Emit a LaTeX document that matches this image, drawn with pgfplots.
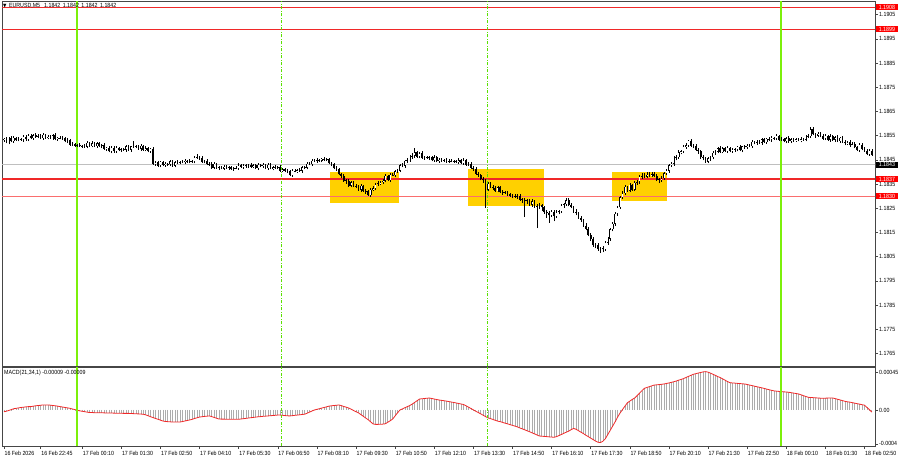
\documentclass[border=0pt]{standalone}
\usepackage{pgfplots}
\usepackage{pgfplotstable}
\pgfplotsset{compat=1.18}
\usepackage{fontspec}
\setmainfont{Liberation Sans}[FakeStretch=0.88]
\newfontfamily\dejavu{DejaVu Sans}[FakeStretch=0.88]
\newcommand\ticks{\fontsize{6}{7}\selectfont}
\definecolor{gold}{RGB}{255,208,0}
\definecolor{lred}{RGB}{240,40,40}
\definecolor{pred}{RGB}{250,110,110}
\definecolor{lgreen}{RGB}{124,240,10}
\definecolor{dgreen}{RGB}{90,225,0}
\definecolor{hist}{RGB}{172,172,172}
\definecolor{frame}{RGB}{70,70,70}

\pgfplotstableread{
i o h l c m
-30 1.18530 1.18542 1.18524 1.18537 -2e-5
-29 1.18537 1.18545 1.18518 1.18522 -1.5e-5
-28 1.18522 1.18544 1.18514 1.18540 -0.5e-5
-27 1.18540 1.18547 1.18522 1.18527 0.5e-5
-26 1.18527 1.18547 1.18520 1.18541 1.5e-5
-25 1.18541 1.18546 1.18528 1.18532 2e-5
-24 1.18532 1.18543 1.18526 1.18535 2.5e-5
-23 1.18535 1.18541 1.18529 1.18533 3e-5
-22 1.18533 1.18552 1.18525 1.18545 3.3e-5
-21 1.18545 1.18551 1.18529 1.18534 3.7e-5
-20 1.18534 1.18555 1.18527 1.18550 4e-5
-19 1.18550 1.18558 1.18534 1.18538 4e-5
-18 1.18538 1.18555 1.18532 1.18551 4.5e-5
-17 1.18551 1.18561 1.18542 1.18546 5e-5
-16 1.18546 1.18556 1.18538 1.18550 5.3e-5
-15 1.18550 1.18555 1.18535 1.18540 5.6e-5
-14 1.18540 1.18561 1.18533 1.18553 6e-5
-13 1.18553 1.18557 1.18536 1.18540 6e-5
-12 1.18540 1.18553 1.18534 1.18546 6e-5
-11 1.18546 1.18552 1.18536 1.18540 5.7e-5
-10 1.18540 1.18556 1.18532 1.18551 5.3e-5
-9 1.18551 1.18559 1.18530 1.18535 5e-5
-8 1.18535 1.18545 1.18528 1.18541 4.5e-5
-7 1.18541 1.18548 1.18534 1.18538 4e-5
-6 1.18538 1.18547 1.18532 1.18541 3.5e-5
-5 1.18541 1.18546 1.18522 1.18526 3e-5
-4 1.18526 1.18538 1.18518 1.18530 2.5e-5
-3 1.18530 1.18534 1.18508 1.18513 2e-5
-2 1.18513 1.18522 1.18506 1.18515 1.2e-5
-1 1.18515 1.18521 1.18503 1.18507 0.5e-5
0 1.18507 1.18515 1.18501 1.18510 -0.3e-5
1 1.18510 1.18518 1.18503 1.18507 -1e-5
2 1.18507 1.18513 1.18499 1.18509 -1.5e-5
3 1.18509 1.18516 1.18499 1.18504 -2e-5
4 1.18504 1.18526 1.18497 1.18520 -2.5e-5
5 1.18520 1.18525 1.18503 1.18507 -3e-5
6 1.18507 1.18526 1.18501 1.18518 -3e-5
7 1.18518 1.18522 1.18502 1.18506 -3.2e-5
8 1.18506 1.18525 1.18498 1.18518 -3.2e-5
9 1.18518 1.18524 1.18502 1.18507 -3.3e-5
10 1.18507 1.18515 1.18500 1.18510 -3.3e-5
11 1.18510 1.18518 1.18491 1.18495 -3.4e-5
12 1.18495 1.18504 1.18486 1.18500 -3.5e-5
13 1.18500 1.18507 1.18481 1.18485 -3.5e-5
14 1.18485 1.18506 1.18477 1.18500 -3.6e-5
15 1.18500 1.18505 1.18480 1.18485 -3.7e-5
16 1.18485 1.18508 1.18478 1.18500 -3.8e-5
17 1.18500 1.18504 1.18485 1.18489 -3.8e-5
18 1.18489 1.18500 1.18483 1.18493 -3.9e-5
19 1.18493 1.18500 1.18487 1.18491 -4e-5
20 1.18491 1.18510 1.18483 1.18505 -4e-5
21 1.18505 1.18513 1.18486 1.18491 -4e-5
22 1.18491 1.18509 1.18484 1.18505 -4.2e-5
23 1.18505 1.18527 1.18499 1.18503 -4.3e-5
24 1.18503 1.18512 1.18497 1.18506 -4.5e-5
25 1.18506 1.18511 1.18491 1.18495 -4.6e-5
26 1.18495 1.18516 1.18487 1.18508 -4.8e-5
27 1.18508 1.18512 1.18487 1.18492 -5e-5
28 1.18492 1.18505 1.18485 1.18498 -5.8e-5
29 1.18498 1.18504 1.18481 1.18485 -6.8e-5
30 1.18485 1.18500 1.18479 1.18495 -8e-5
31 1.18495 1.18503 1.18430 1.18434 -9e-5
32 1.18434 1.18445 1.18426 1.18439 -10e-5
33 1.18439 1.18446 1.18421 1.18426 -11e-5
34 1.18426 1.18447 1.18419 1.18441 -12e-5
35 1.18441 1.18446 1.18424 1.18428 -13e-5
36 1.18428 1.18442 1.18422 1.18434 -13.6e-5
37 1.18434 1.18438 1.18425 1.18431 -13.8e-5
38 1.18431 1.18451 1.18423 1.18444 -14e-5
39 1.18444 1.18450 1.18421 1.18426 -14.2e-5
40 1.18426 1.18445 1.18419 1.18440 -14.2e-5
41 1.18440 1.18448 1.18434 1.18438 -14.2e-5
42 1.18438 1.18446 1.18432 1.18442 -14.2e-5
43 1.18442 1.18449 1.18435 1.18439 -13.7e-5
44 1.18439 1.18452 1.18431 1.18446 -13e-5
45 1.18446 1.18451 1.18437 1.18442 -12.4e-5
46 1.18442 1.18454 1.18435 1.18446 -11.8e-5
47 1.18446 1.18451 1.18437 1.18441 -11e-5
48 1.18441 1.18465 1.18435 1.18458 -10e-5
49 1.18458 1.18474 1.18454 1.18461 -9.2e-5
50 1.18461 1.18466 1.18449 1.18457 -8.3e-5
51 1.18457 1.18465 1.18437 1.18442 -8e-5
52 1.18442 1.18450 1.18435 1.18446 -7.6e-5
53 1.18446 1.18453 1.18427 1.18431 -7.3e-5
54 1.18431 1.18440 1.18424 1.18434 -7e-5
55 1.18434 1.18439 1.18414 1.18418 -7.8e-5
56 1.18418 1.18441 1.18410 1.18433 -8.8e-5
57 1.18433 1.18437 1.18412 1.18417 -9.8e-5
58 1.18417 1.18425 1.18407 1.18418 -10.7e-5
59 1.18418 1.18424 1.18410 1.18414 -10.8e-5
60 1.18414 1.18427 1.18408 1.18422 -10.8e-5
61 1.18422 1.18430 1.18413 1.18417 -10.9e-5
62 1.18417 1.18423 1.18409 1.18419 -11e-5
63 1.18419 1.18426 1.18407 1.18412 -11e-5
64 1.18412 1.18422 1.18405 1.18416 -11e-5
65 1.18416 1.18423 1.18411 1.18415 -11e-5
66 1.18415 1.18435 1.18409 1.18427 -11e-5
67 1.18427 1.18431 1.18418 1.18422 -10.6e-5
68 1.18422 1.18434 1.18414 1.18427 -10.3e-5
69 1.18427 1.18433 1.18418 1.18423 -9.9e-5
70 1.18423 1.18432 1.18416 1.18427 -9.5e-5
71 1.18427 1.18435 1.18418 1.18422 -9.1e-5
72 1.18422 1.18431 1.18416 1.18427 -8.8e-5
73 1.18427 1.18434 1.18411 1.18415 -8.4e-5
74 1.18415 1.18435 1.18407 1.18429 -8e-5
75 1.18429 1.18434 1.18419 1.18424 -7.8e-5
76 1.18424 1.18437 1.18417 1.18429 -7.5e-5
77 1.18429 1.18433 1.18411 1.18415 -7.3e-5
78 1.18415 1.18436 1.18409 1.18429 -7e-5
79 1.18429 1.18435 1.18410 1.18414 -6.8e-5
80 1.18414 1.18424 1.18406 1.18419 -6.5e-5
81 1.18419 1.18427 1.18412 1.18417 -6.3e-5
82 1.18417 1.18425 1.18410 1.18421 -6e-5
83 1.18421 1.18428 1.18401 1.18405 -6e-5
84 1.18405 1.18416 1.18399 1.18410 -6.3e-5
85 1.18410 1.18415 1.18399 1.18405 -6.6e-5
86 1.18405 1.18413 1.18394 1.18404 -6.9e-5
87 1.18404 1.18408 1.18381 1.18386 -7e-5
88 1.18386 1.18411 1.18379 1.18404 -6.7e-5
89 1.18404 1.18410 1.18398 1.18402 -6.3e-5
90 1.18402 1.18412 1.18396 1.18407 -6e-5
91 1.18407 1.18415 1.18400 1.18404 -5.7e-5
92 1.18404 1.18423 1.18396 1.18419 -5.3e-5
93 1.18419 1.18426 1.18410 1.18417 -5e-5
94 1.18417 1.18440 1.18410 1.18434 -3.8e-5
95 1.18434 1.18441 1.18427 1.18431 -2.5e-5
96 1.18431 1.18455 1.18425 1.18447 -1.2e-5
97 1.18447 1.18453 1.18441 1.18445 0
98 1.18445 1.18456 1.18437 1.18449 0.8e-5
99 1.18449 1.18455 1.18441 1.18446 1.5e-5
100 1.18446 1.18459 1.18439 1.18454 2.3e-5
101 1.18454 1.18462 1.18445 1.18449 3e-5
102 1.18449 1.18456 1.18443 1.18452 3.8e-5
103 1.18452 1.18459 1.18431 1.18435 4.6e-5
104 1.18435 1.18441 1.18423 1.18431 5e-5
105 1.18431 1.18436 1.18410 1.18415 5.3e-5
106 1.18415 1.18423 1.18402 1.18411 5.6e-5
107 1.18411 1.18415 1.18386 1.18390 6e-5
108 1.18390 1.18397 1.18374 1.18385 5.2e-5
109 1.18385 1.18391 1.18359 1.18363 4.2e-5
110 1.18363 1.18370 1.18352 1.18362 3.3e-5
111 1.18362 1.18370 1.18338 1.18343 2.4e-5
112 1.18343 1.18361 1.18336 1.18357 1e-5
113 1.18357 1.18364 1.18337 1.18341 -0.6e-5
114 1.18341 1.18348 1.18333 1.18342 -2e-5
115 1.18342 1.18347 1.18322 1.18326 -3.4e-5
116 1.18326 1.18350 1.18318 1.18342 -5.4e-5
117 1.18342 1.18346 1.18318 1.18323 -7.5e-5
118 1.18323 1.18330 1.18310 1.18321 -9.6e-5
119 1.18321 1.18327 1.18300 1.18304 -11.5e-5
120 1.18304 1.18332 1.18298 1.18327 -14e-5
121 1.18327 1.18341 1.18321 1.18333 -16.5e-5
122 1.18333 1.18353 1.18325 1.18349 -17e-5
123 1.18349 1.18362 1.18342 1.18353 -17e-5
124 1.18353 1.18364 1.18346 1.18358 -16.9e-5
125 1.18358 1.18370 1.18350 1.18363 -16.7e-5
126 1.18363 1.18391 1.18357 1.18383 -16.3e-5
127 1.18383 1.18387 1.18362 1.18366 -14.5e-5
128 1.18366 1.18395 1.18358 1.18388 -12.7e-5
129 1.18388 1.18395 1.18381 1.18387 -10.7e-5
130 1.18387 1.18407 1.18380 1.18402 -7e-5
131 1.18402 1.18414 1.18395 1.18405 -3.3e-5
132 1.18405 1.18432 1.18399 1.18428 0
133 1.18428 1.18436 1.18419 1.18426 1.3e-5
134 1.18426 1.18451 1.18418 1.18445 2.7e-5
135 1.18445 1.18456 1.18437 1.18448 4e-5
136 1.18448 1.18470 1.18442 1.18462 5.3e-5
137 1.18462 1.18480 1.18455 1.18466 7e-5
138 1.18466 1.18500 1.18458 1.18482 9e-5
139 1.18482 1.18488 1.18458 1.18463 11e-5
140 1.18463 1.18483 1.18456 1.18478 13e-5
141 1.18478 1.18486 1.18454 1.18458 13.3e-5
142 1.18458 1.18464 1.18451 1.18460 13.6e-5
143 1.18460 1.18467 1.18453 1.18457 13.9e-5
144 1.18457 1.18467 1.18449 1.18461 14.2e-5
145 1.18461 1.18466 1.18443 1.18448 13.6e-5
146 1.18448 1.18468 1.18441 1.18460 13e-5
147 1.18460 1.18464 1.18439 1.18443 12.4e-5
148 1.18443 1.18457 1.18437 1.18450 11.8e-5
149 1.18450 1.18456 1.18441 1.18447 11.4e-5
150 1.18447 1.18455 1.18439 1.18450 11e-5
151 1.18450 1.18458 1.18438 1.18443 10.5e-5
152 1.18443 1.18452 1.18436 1.18446 10e-5
153 1.18446 1.18453 1.18439 1.18443 9.4e-5
154 1.18443 1.18451 1.18437 1.18445 8.9e-5
155 1.18445 1.18450 1.18437 1.18441 8.3e-5
156 1.18441 1.18456 1.18433 1.18448 7.7e-5
157 1.18448 1.18452 1.18431 1.18436 7.1e-5
158 1.18436 1.18456 1.18429 1.18449 6.5e-5
159 1.18449 1.18455 1.18426 1.18430 5e-5
160 1.18430 1.18439 1.18424 1.18433 3.4e-5
161 1.18433 1.18441 1.18413 1.18417 1.8e-5
162 1.18417 1.18424 1.18405 1.18414 0.2e-5
163 1.18414 1.18421 1.18388 1.18393 -1.5e-5
164 1.18393 1.18401 1.18380 1.18388 -3e-5
165 1.18388 1.18393 1.18365 1.18369 -4.5e-5
166 1.18369 1.18377 1.18354 1.18365 -6.2e-5
167 1.18365 1.18369 1.18250 1.18327 -7.8e-5
168 1.18327 1.18358 1.18319 1.18351 -9.3e-5
169 1.18351 1.18357 1.18333 1.18338 -10.2e-5
170 1.18338 1.18345 1.18326 1.18335 -11.2e-5
171 1.18335 1.18343 1.18317 1.18321 -12.2e-5
172 1.18321 1.18340 1.18315 1.18336 -13.2e-5
173 1.18336 1.18343 1.18311 1.18315 -13.8e-5
174 1.18315 1.18324 1.18306 1.18318 -14.7e-5
175 1.18318 1.18323 1.18307 1.18312 -15.6e-5
176 1.18312 1.18320 1.18302 1.18309 -16.4e-5
177 1.18309 1.18313 1.18296 1.18300 -17.3e-5
178 1.18300 1.18309 1.18292 1.18302 -18.2e-5
179 1.18302 1.18308 1.18294 1.18298 -19e-5
180 1.18298 1.18307 1.18290 1.18302 -20e-5
181 1.18302 1.18310 1.18280 1.18285 -21.2e-5
182 1.18285 1.18292 1.18272 1.18284 -22.3e-5
183 1.18284 1.18291 1.18213 1.18279 -23.4e-5
184 1.18279 1.18289 1.18269 1.18282 -24.6e-5
185 1.18282 1.18287 1.18261 1.18265 -25.7e-5
186 1.18265 1.18286 1.18257 1.18278 -27e-5
187 1.18278 1.18282 1.18252 1.18257 -28.2e-5
188 1.18257 1.18267 1.18168 1.18260 -29.5e-5
189 1.18260 1.18270 1.18245 1.18264 -30.8e-5
190 1.18264 1.18269 1.18240 1.18253 -31e-5
191 1.18253 1.18261 1.18228 1.18234 -31.3e-5
192 1.18234 1.18244 1.18210 1.18231 -31.5e-5
193 1.18231 1.18238 1.18190 1.18220 -31.8e-5
194 1.18220 1.18242 1.18214 1.18236 -32e-5
195 1.18236 1.18241 1.18196 1.18217 -32.3e-5
196 1.18217 1.18241 1.18209 1.18233 -31.5e-5
197 1.18233 1.18244 1.18224 1.18237 -30.3e-5
198 1.18237 1.18268 1.18230 1.18261 -29e-5
199 1.18261 1.18273 1.18252 1.18266 -27.6e-5
200 1.18266 1.18292 1.18260 1.18283 -26.3e-5
201 1.18283 1.18291 1.18258 1.18262 -25e-5
202 1.18262 1.18270 1.18249 1.18254 -23.3e-5
203 1.18254 1.18261 1.18231 1.18236 -21.8e-5
204 1.18236 1.18245 1.18220 1.18229 -22.8e-5
205 1.18229 1.18234 1.18207 1.18211 -24.5e-5
206 1.18211 1.18219 1.18194 1.18203 -26.2e-5
207 1.18203 1.18207 1.18173 1.18177 -27.9e-5
208 1.18177 1.18188 1.18158 1.18166 -29.8e-5
209 1.18166 1.18172 1.18134 1.18139 -31.5e-5
210 1.18139 1.18148 1.18114 1.18122 -33.3e-5
211 1.18122 1.18130 1.18090 1.18096 -35e-5
212 1.18096 1.18107 1.18084 1.18098 -36.8e-5
213 1.18098 1.18105 1.18074 1.18081 -38.2e-5
214 1.18081 1.18090 1.18064 1.18084 -38.5e-5
215 1.18084 1.18094 1.18068 1.18080 -37e-5
216 1.18080 1.18115 1.18074 1.18107 -34e-5
217 1.18107 1.18132 1.18100 1.18124 -29e-5
218 1.18124 1.18169 1.18116 1.18162 -24e-5
219 1.18162 1.18194 1.18154 1.18185 -19e-5
220 1.18185 1.18233 1.18178 1.18228 -14e-5
221 1.18228 1.18261 1.18218 1.18253 -8.5e-5
222 1.18253 1.18299 1.18247 1.18295 -3.6e-5
223 1.18295 1.18323 1.18286 1.18312 0.5e-5
224 1.18312 1.18344 1.18304 1.18338 4.5e-5
225 1.18338 1.18343 1.18317 1.18322 8.5e-5
226 1.18322 1.18354 1.18315 1.18346 10.5e-5
227 1.18346 1.18350 1.18323 1.18327 12.5e-5
228 1.18327 1.18363 1.18321 1.18356 14.2e-5
229 1.18356 1.18367 1.18346 1.18359 17e-5
230 1.18359 1.18386 1.18351 1.18381 20e-5
231 1.18381 1.18395 1.18372 1.18384 23e-5
232 1.18384 1.18396 1.18373 1.18380 25.7e-5
233 1.18380 1.18398 1.18376 1.18389 26.6e-5
234 1.18389 1.18400 1.18377 1.18383 27.6e-5
235 1.18383 1.18401 1.18379 1.18391 28.6e-5
236 1.18391 1.18399 1.18377 1.18385 29.5e-5
237 1.18385 1.18391 1.18362 1.18367 29.8e-5
238 1.18367 1.18376 1.18354 1.18369 30.1e-5
239 1.18369 1.18384 1.18360 1.18374 30.4e-5
240 1.18374 1.18400 1.18368 1.18395 30.8e-5
241 1.18395 1.18412 1.18388 1.18404 31.4e-5
242 1.18404 1.18432 1.18396 1.18428 32e-5
243 1.18428 1.18442 1.18420 1.18433 32.7e-5
244 1.18433 1.18464 1.18426 1.18458 33.4e-5
245 1.18458 1.18468 1.18448 1.18461 34.3e-5
246 1.18461 1.18489 1.18455 1.18481 35.3e-5
247 1.18481 1.18492 1.18472 1.18486 36.2e-5
248 1.18486 1.18510 1.18478 1.18503 37.2e-5
249 1.18503 1.18520 1.18496 1.18510 38.5e-5
250 1.18510 1.18533 1.18503 1.18528 39.8e-5
251 1.18528 1.18536 1.18503 1.18507 41e-5
252 1.18507 1.18516 1.18498 1.18509 42.3e-5
253 1.18509 1.18516 1.18487 1.18491 43e-5
254 1.18491 1.18498 1.18474 1.18485 43.7e-5
255 1.18485 1.18490 1.18455 1.18460 44.4e-5
256 1.18460 1.18470 1.18448 1.18457 45.1e-5
257 1.18457 1.18461 1.18438 1.18442 45.4e-5
258 1.18442 1.18463 1.18436 1.18456 44.8e-5
259 1.18456 1.18466 1.18446 1.18460 43.6e-5
260 1.18460 1.18485 1.18452 1.18480 42.3e-5
261 1.18480 1.18491 1.18470 1.18483 41e-5
262 1.18483 1.18502 1.18476 1.18498 39.5e-5
263 1.18498 1.18505 1.18478 1.18482 38.4e-5
264 1.18482 1.18504 1.18476 1.18498 36.8e-5
265 1.18498 1.18503 1.18482 1.18486 35.2e-5
266 1.18486 1.18508 1.18478 1.18500 33.6e-5
267 1.18500 1.18504 1.18481 1.18486 32.3e-5
268 1.18486 1.18500 1.18479 1.18493 32e-5
269 1.18493 1.18499 1.18484 1.18491 31.8e-5
270 1.18491 1.18509 1.18485 1.18504 31.5e-5
271 1.18504 1.18512 1.18485 1.18489 31.3e-5
272 1.18489 1.18509 1.18481 1.18505 31e-5
273 1.18505 1.18512 1.18496 1.18501 30.8e-5
274 1.18501 1.18514 1.18494 1.18508 30.2e-5
275 1.18508 1.18515 1.18501 1.18506 29.5e-5
276 1.18506 1.18532 1.18500 1.18524 28.9e-5
277 1.18524 1.18528 1.18514 1.18520 28.2e-5
278 1.18520 1.18531 1.18512 1.18524 27.5e-5
279 1.18524 1.18530 1.18515 1.18520 26.9e-5
280 1.18520 1.18539 1.18513 1.18534 26.2e-5
281 1.18534 1.18542 1.18519 1.18523 25.5e-5
282 1.18523 1.18541 1.18517 1.18537 24.7e-5
283 1.18537 1.18544 1.18529 1.18533 24e-5
284 1.18533 1.18547 1.18525 1.18541 23.3e-5
285 1.18541 1.18546 1.18533 1.18538 22.6e-5
286 1.18538 1.18557 1.18531 1.18549 22.3e-5
287 1.18549 1.18553 1.18528 1.18532 22e-5
288 1.18532 1.18543 1.18526 1.18536 21.8e-5
289 1.18536 1.18542 1.18522 1.18526 21.5e-5
290 1.18526 1.18544 1.18518 1.18539 21.3e-5
291 1.18539 1.18547 1.18521 1.18526 21e-5
292 1.18526 1.18538 1.18519 1.18534 20.5e-5
293 1.18534 1.18541 1.18525 1.18530 20e-5
294 1.18530 1.18541 1.18524 1.18535 19.5e-5
295 1.18535 1.18540 1.18526 1.18530 19e-5
296 1.18530 1.18543 1.18522 1.18535 18e-5
297 1.18535 1.18541 1.18528 1.18533 17e-5
298 1.18533 1.18553 1.18526 1.18546 16e-5
299 1.18546 1.18558 1.18539 1.18548 15e-5
300 1.18548 1.18586 1.18542 1.18576 14.8e-5
301 1.18576 1.18584 1.18551 1.18555 14.6e-5
302 1.18555 1.18562 1.18542 1.18550 14.4e-5
303 1.18550 1.18564 1.18545 1.18557 14.2e-5
304 1.18557 1.18563 1.18543 1.18550 14e-5
305 1.18550 1.18555 1.18533 1.18537 13.9e-5
306 1.18537 1.18557 1.18531 1.18549 14e-5
307 1.18549 1.18553 1.18529 1.18533 14.1e-5
308 1.18533 1.18555 1.18525 1.18548 14.1e-5
309 1.18548 1.18554 1.18527 1.18532 14.2e-5
310 1.18532 1.18549 1.18525 1.18544 13.5e-5
311 1.18544 1.18552 1.18523 1.18527 12.7e-5
312 1.18527 1.18544 1.18521 1.18540 11.9e-5
313 1.18540 1.18547 1.18520 1.18524 11.1e-5
314 1.18524 1.18531 1.18510 1.18518 10.3e-5
315 1.18518 1.18529 1.18513 1.18523 9.7e-5
316 1.18523 1.18531 1.18503 1.18510 9.3e-5
317 1.18510 1.18522 1.18506 1.18515 8.7e-5
318 1.18515 1.18522 1.18497 1.18503 8.1e-5
319 1.18503 1.18509 1.18486 1.18490 7.5e-5
320 1.18490 1.18518 1.18482 1.18513 6.9e-5
321 1.18513 1.18521 1.18489 1.18494 6.3e-5
322 1.18494 1.18502 1.18483 1.18488 5.7e-5
323 1.18488 1.18495 1.18468 1.18472 3e-5
324 1.18472 1.18494 1.18466 1.18488 0.5e-5
325 1.18488 1.18493 1.18465 1.18469 -2.4e-5
}\bars

\begin{document}
\begin{tikzpicture}
\fill[white] (0,0) rectangle (900pt,460pt);

\begin{axis}[
  name=main, at={(2pt,93.5pt)}, anchor=south west,
  scale only axis, width=873pt, height=365pt,
  xmin=-30.8, xmax=326.3, ymin=1.17596, ymax=1.19104,
  axis line style={draw=frame, line width=0.8pt},
  xtick=\empty,
  ytick={1.1765,1.1775,1.1785,1.1795,1.1805,1.1815,1.1825,1.1835,1.1845,1.1855,1.1865,1.1875,1.1885,1.1895,1.1905},
  yticklabels={1.1765,1.1775,1.1785,1.1795,1.1805,1.1815,1.1825,1.1835,1.1845,1.1855,1.1865,1.1875,1.1885,1.1895,1.1905},
  ytick pos=right, yticklabel pos=right,
  tick align=outside, major tick length=3pt,
  tick style={draw=frame, line width=0.5pt},
  yticklabel style={font=\ticks, anchor=west, inner sep=0pt, xshift=1pt},
  scaled y ticks=false,
]
% zones
\addplot[fill=gold, draw=none] coordinates {(103.4,1.18270) (131.6,1.18270) (131.6,1.18400) (103.4,1.18400)} -- cycle;
\addplot[fill=gold, draw=none] coordinates {(159.7,1.18260) (190.9,1.18260) (190.9,1.18412) (159.7,1.18412)} -- cycle;
\addplot[fill=gold, draw=none] coordinates {(218.8,1.18279) (241.1,1.18279) (241.1,1.18400) (218.8,1.18400)} -- cycle;
% price lines
\addplot[draw=black!25, line width=0.6pt] coordinates {(-31,1.1843) (327,1.1843)};
\addplot[draw=lred, line width=1.5pt] coordinates {(-31,1.1908) (327,1.1908)};
\addplot[draw=lred, line width=0.9pt] coordinates {(-31,1.1899) (327,1.1899)};
\addplot[draw=lred, line width=1.5pt] coordinates {(-31,1.1837) (327,1.1837)};
\addplot[draw=pred, line width=1.1pt] coordinates {(-31,1.1830) (327,1.1830)};
% verticals
\addplot[draw=lgreen, line width=1.8pt] coordinates {(0,1.17596) (0,1.19104)};
\addplot[draw=lgreen, line width=1.8pt] coordinates {(288,1.17596) (288,1.19104)};
\addplot[draw=dgreen, line width=0.9pt, dash pattern=on 3pt off 1.5pt on 1pt off 1.5pt] coordinates {(83.6,1.17596) (83.6,1.19104)};
\addplot[draw=dgreen, line width=0.9pt, dash pattern=on 3pt off 1.5pt on 1pt off 1.5pt] coordinates {(167.6,1.17596) (167.6,1.19104)};
% candles: wicks
\addplot[draw=none, mark=none, error bars/.cd, y dir=plus, y explicit, error mark=none,
  error bar style={draw=black, solid, line width=0.55pt}]
  table[x=i, y=l, y error plus expr={\thisrow{h}-\thisrow{l}}] {\bars};
% bodies
\addplot[draw=none, mark=none, error bars/.cd, y dir=plus, y explicit, error mark=none,
  error bar style={draw=black, solid, line width=1.7pt}]
  table[x=i, y expr={min(\thisrow{o},\thisrow{c})}, y error plus expr={max(abs(\thisrow{c}-\thisrow{o}),0.00002)}] {\bars};
% hollow bull bodies
\addplot[draw=none, mark=none, error bars/.cd, y dir=plus, y explicit, error mark=none,
  error bar style={draw=white, solid, line width=0.7pt}]
  table[x=i, y expr={\thisrow{o}+0.00002}, y error plus expr={max(\thisrow{c}-\thisrow{o}-0.00004,0)}] {\bars};
\coordinate (L1908) at (axis cs:326.3,1.1908);
\coordinate (L1899) at (axis cs:326.3,1.1899);
\coordinate (L1843) at (axis cs:326.3,1.1843);
\coordinate (L1837) at (axis cs:326.3,1.1837);
\coordinate (L1830) at (axis cs:326.3,1.1830);
\end{axis}

\begin{axis}[
  name=macd, at={(2pt,14pt)}, anchor=south west,
  scale only axis, width=873pt, height=78.5pt,
  xmin=-30.8, xmax=326.3, ymin=-0.000426, ymax=0.000503,
  axis line style={draw=frame, line width=0.8pt},
  xtick={-30,-15,2,18,34,50,66,82,98,114,130,146,162,178,194,210,226,242,258,274,290,306,322},
  xticklabels={16 Feb 2026,16 Feb 22:45,17 Feb 00:10,17 Feb 01:30,17 Feb 02:50,17 Feb 04:10,17 Feb 05:30,17 Feb 06:50,17 Feb 08:10,17 Feb 09:30,17 Feb 10:50,17 Feb 12:10,17 Feb 13:30,17 Feb 14:50,17 Feb 16:10,17 Feb 17:30,17 Feb 18:50,17 Feb 20:10,17 Feb 21:30,17 Feb 22:50,18 Feb 00:10,18 Feb 01:30,18 Feb 02:50},
  xtick pos=left, xticklabel pos=left,
  ytick={-0.0004,0,0.00045},
  yticklabels={-0.0004,0.00,0.00045},
  ytick pos=right, yticklabel pos=right,
  tick align=outside, major tick length=3pt,
  tick style={draw=frame, line width=0.5pt},
  xticklabel style={font=\ticks, anchor=north west, inner sep=0pt, xshift=0.5pt, yshift=-1.5pt},
  yticklabel style={font=\ticks, anchor=west, inner sep=0pt, xshift=1pt},
  scaled y ticks=false, scaled x ticks=false,
]
\addplot[ycomb, draw=hist, line width=0.7pt, mark=none] table[x=i, y=m] {\bars};
\addplot[draw=lred, line width=0.8pt, mark=none] table[x=i, y=m] {\bars};
\addplot[draw=lgreen, line width=1.8pt] coordinates {(0,-0.000426) (0,0.000503)};
\addplot[draw=lgreen, line width=1.8pt] coordinates {(288,-0.000426) (288,0.000503)};
\addplot[draw=dgreen, line width=0.9pt, dash pattern=on 3pt off 1.5pt on 1pt off 1.5pt] coordinates {(83.6,-0.000426) (83.6,0.000503)};
\addplot[draw=dgreen, line width=0.9pt, dash pattern=on 3pt off 1.5pt on 1pt off 1.5pt] coordinates {(167.6,-0.000426) (167.6,0.000503)};
\end{axis}

% price boxes on the right scale
\begin{scope}[every node/.style={font=\ticks, anchor=west, inner xsep=3pt, inner ysep=1pt, text=white}]
\node[fill=red] at ([xshift=0.6pt]L1908) {1.1908};
\node[fill=red] at ([xshift=0.6pt]L1899) {1.1899};
\node[fill=black] at ([xshift=0.6pt]L1843) {1.1843};
\node[fill=red] at ([xshift=0.6pt]L1837) {1.1837};
\node[fill=red] at ([xshift=0.6pt]L1830) {1.1830};
\end{scope}
% titles
\node[font=\ticks, anchor=west, inner sep=0pt] at (3pt,454pt) {{\dejavu\fontsize{5}{6}\selectfont ▼}\hspace{2.5pt}EURUSD,M5\hspace{4pt}1.1842\hspace{2.5pt}1.1842\hspace{2.5pt}1.1842\hspace{2.5pt}1.1842};
\node[font=\ticks, anchor=west, inner sep=0pt] at (4pt,87pt) {MACD(21,34,1) -0.00009 -0.00009};
\end{tikzpicture}
\end{document}
